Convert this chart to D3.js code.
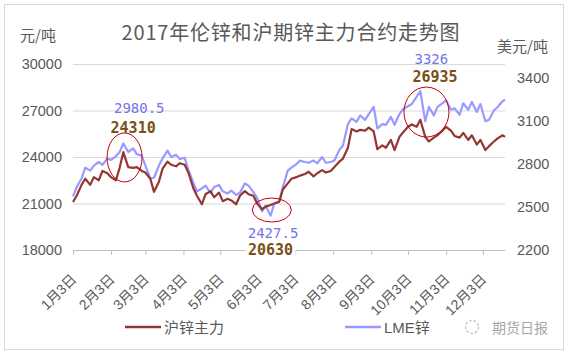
<!DOCTYPE html>
<html><head><meta charset="utf-8">
<script src="https://cdn.jsdelivr.net/npm/d3@7"></script>
<style>
body{margin:0;background:#fff}
text{font-family:"Liberation Sans","Noto Sans CJK SC",sans-serif}
</style></head>
<body><svg id="c" width="569" height="357"></svg>
<script>
const dates = ["2017-01-03","2017-01-06","2017-01-10","2017-01-13","2017-01-17","2017-01-20","2017-01-24","2017-01-27","2017-01-31",
"2017-02-03","2017-02-07","2017-02-10","2017-02-13","2017-02-17","2017-02-21","2017-02-24","2017-02-28",
"2017-03-03","2017-03-07","2017-03-10","2017-03-14","2017-03-17","2017-03-21","2017-03-24","2017-03-28","2017-03-31",
"2017-04-04","2017-04-07","2017-04-11","2017-04-14","2017-04-18","2017-04-21","2017-04-25","2017-04-28",
"2017-05-02","2017-05-05","2017-05-09","2017-05-12","2017-05-16","2017-05-19","2017-05-23","2017-05-26","2017-05-30",
"2017-06-02","2017-06-06","2017-06-09","2017-06-13","2017-06-16","2017-06-20","2017-06-23","2017-06-27","2017-06-30",
"2017-07-04","2017-07-07","2017-07-11","2017-07-14","2017-07-18","2017-07-21","2017-07-25","2017-07-28",
"2017-08-01","2017-08-04","2017-08-08","2017-08-11","2017-08-15","2017-08-18","2017-08-22","2017-08-25","2017-08-29",
"2017-09-01","2017-09-05","2017-09-08","2017-09-12","2017-09-15","2017-09-19","2017-09-22","2017-09-26","2017-09-29",
"2017-10-03","2017-10-06","2017-10-10","2017-10-13","2017-10-17","2017-10-20","2017-10-24","2017-10-27","2017-10-31",
"2017-11-03","2017-11-07","2017-11-10","2017-11-14","2017-11-17","2017-11-21","2017-11-24","2017-11-28",
"2017-12-01","2017-12-05","2017-12-08","2017-12-12","2017-12-15","2017-12-19","2017-12-21"];

// 沪锌主力 (元/吨, left axis)
const shfe = [21100,21500,22200,22600,22200,22700,22500,23100,22950,
22700,22500,23300,24310,23350,23300,23350,23100,
23000,22600,21750,22400,23250,23700,23500,23400,23600,
23500,23000,22000,21500,20950,21600,21800,21400,
21700,21150,21300,21200,20950,21500,21800,21600,21500,
21000,20630,20800,20900,21000,21100,21900,22300,22600,
22700,22800,22900,23050,22750,22950,23150,23000,
23100,23350,23700,23900,24600,25800,25650,25750,25700,
25900,25650,24500,24750,24600,25100,24450,25300,25600,
25950,26100,25950,26400,25300,25000,25250,25400,25700,
25950,25700,25350,25250,25550,25100,25400,24800,
25100,24450,24700,25000,25200,25400,25300];

// LME锌 (美元/吨, right axis)
const lme = [2575,2640,2700,2775,2755,2790,2815,2795,2840,
2830,2855,2885,2945,2885,2910,2870,2860,
2790,2700,2705,2790,2840,2895,2850,2865,2835,
2845,2760,2670,2610,2630,2650,2600,2640,
2655,2610,2595,2615,2585,2600,2665,2650,2605,
2565,2470,2510,2440,2525,2540,2640,2755,2775,
2800,2825,2815,2810,2825,2805,2850,2810,
2815,2825,2900,2930,3080,3120,3095,3140,3110,
3150,3200,3050,3080,3075,3130,3075,3150,3185,
3205,3220,3270,3310,3100,3200,3140,3200,3225,
3245,3180,3190,3145,3225,3180,3235,3165,
3220,3100,3110,3175,3200,3240,3250];

const leftTicks = [18000,21000,24000,27000,30000];
const rightTicks = [2200,2500,2800,3100,3400];
const monthTicks = ["2017-01-03","2017-02-03","2017-03-03","2017-04-03","2017-05-03","2017-06-03",
"2017-07-03","2017-08-03","2017-09-03","2017-10-03","2017-11-03","2017-12-03"];

const title = "2017年伦锌和沪期锌主力合约走势图";
const seriesNames = ["沪锌主力","LME锌"];

// annotation labels (anchored in data units: date + left-axis value)
const notes = [
  {text:"2980.5", date:"2017-02-26", v:27150, kind:"lme"},
  {text:"24310",  date:"2017-02-21", v:25870, kind:"shfe"},
  {text:"2427.5", date:"2017-06-15", v:19100, kind:"lme"},
  {text:"20630",  date:"2017-06-13", v:17990, kind:"shfe"},
  {text:"3326",   date:"2017-10-22", v:30320, kind:"lme"},
  {text:"26935",  date:"2017-10-25", v:29160, kind:"shfe"}
];
const rings = [
  {date:"2017-02-14", v:23970, rx:17.5, ry:24.5},
  {date:"2017-06-14", v:20580, rx:19.5, ry:12},
  {date:"2017-10-18", v:26900, rx:22.5, ry:25}
];

const parse = d3.timeParse("%Y-%m-%d");
const svg = d3.select("#c");
const L = 73, R = 505, T = 64, B = 250;

const x = d3.scaleTime().domain([parse(dates[0]), parse(dates[dates.length-1])]).range([L, R]);
const yL = d3.scaleLinear().domain([18000,30000]).range([B, T]);
const yR = d3.scaleLinear().domain([2200,3500]).range([B, T]);

const RED = "#943634", BLUE = "#9999ff", GREY = "#595959";

// frame
svg.append("rect").attr("x",4.5).attr("y",4.5).attr("width",559).attr("height",345)
  .attr("fill","#fff").attr("stroke","#d9d9d9");

// title
svg.append("text").attr("x",291).attr("y",31).attr("text-anchor","middle")
  .attr("dominant-baseline","central").attr("font-size",20).attr("letter-spacing",0.8)
  .attr("fill",GREY).style("font-family","'Noto Sans CJK SC',sans-serif").text(title);

// units
svg.append("text").attr("x",20).attr("y",34).attr("dominant-baseline","central")
  .attr("font-size",15).attr("fill",GREY).style("font-family","'Noto Sans CJK SC',sans-serif").text("元/吨");
svg.append("text").attr("x",497).attr("y",45).attr("dominant-baseline","central")
  .attr("font-size",15).attr("fill",GREY).style("font-family","'Noto Sans CJK SC',sans-serif").text("美元/吨");

// gridlines
const grid = svg.append("g").attr("transform",`translate(${L},0)`)
  .call(d3.axisLeft(yL).tickValues(leftTicks.filter(d=>d!==18000)).tickSize(-(R-L)).tickFormat(""));
grid.select(".domain").remove();
grid.selectAll("line").attr("stroke","#d9d9d9");

// left axis labels
const gl = svg.append("g").attr("transform",`translate(${L},0)`)
  .call(d3.axisLeft(yL).tickValues(leftTicks).tickSize(0).tickPadding(11).tickFormat(d3.format("d")));
gl.select(".domain").remove();
gl.selectAll("text").attr("font-size",14.5).attr("fill",GREY).style("font-family","'Liberation Sans',sans-serif");

// right axis labels
const gr = svg.append("g").attr("transform",`translate(${R},0)`)
  .call(d3.axisRight(yR).tickValues(rightTicks).tickSize(0).tickPadding(12).tickFormat(d3.format("d")));
gr.select(".domain").remove();
gr.selectAll("text").attr("font-size",14.5).attr("fill",GREY).style("font-family","'Liberation Sans',sans-serif");

// x axis
const gx = svg.append("g").attr("transform",`translate(0,${B})`)
  .call(d3.axisBottom(x).tickValues(monthTicks.map(parse)).tickSize(5).tickSizeOuter(0)
    .tickFormat(d => `${d.getMonth()+1}月${d.getDate()}日`));
gx.select(".domain").attr("stroke","#bfbfbf");
gx.selectAll("line").attr("stroke","#bfbfbf");
gx.selectAll("text").attr("x",0).attr("y",0).attr("dy",0)
  .attr("text-anchor","end").attr("transform","translate(4,30) rotate(-45)")
  .attr("font-size",14).attr("fill",GREY);

// lines
const pts = dates.map((d,i)=>({d:parse(d), s:shfe[i], l:lme[i]}));
svg.append("path").datum(pts).attr("fill","none").attr("stroke",BLUE).attr("stroke-width",2.2)
  .attr("stroke-linejoin","round").attr("d", d3.line().x(p=>x(p.d)).y(p=>yR(p.l)));
svg.append("path").datum(pts).attr("fill","none").attr("stroke",RED).attr("stroke-width",2.2)
  .attr("stroke-linejoin","round").attr("d", d3.line().x(p=>x(p.d)).y(p=>yL(p.s)));

// rings
svg.selectAll(".ring").data(rings).enter().append("ellipse")
  .attr("cx",r=>x(parse(r.date))).attr("cy",r=>yL(r.v)).attr("rx",r=>r.rx).attr("ry",r=>r.ry)
  .attr("fill","none").attr("stroke","#c0000f").attr("stroke-width",1);

// notes
notes.forEach(n=>{
  const cx = x(parse(n.date)), cy = yL(n.v);
  const shf = n.kind==="shfe";
  if (n.text==="20630") {
    svg.append("rect").attr("x",cx-25).attr("y",cy-7).attr("width",50).attr("height",14).attr("fill","#fff");
  }
  svg.append("text").attr("x",cx).attr("y",cy).attr("text-anchor","middle").attr("dominant-baseline","central")
    .attr("font-size", shf ? 15 : 14).attr("font-weight", shf ? "bold" : "normal")
    .attr("fill", shf ? "#7a5016" : "#7474e4")
    .style("font-family","'DejaVu Sans Mono','Liberation Mono',monospace")
    .text(n.text);
});

// legend
const lg = [{name:seriesNames[0], c:RED, x0:125}, {name:seriesNames[1], c:BLUE, x0:345}];
lg.forEach(g=>{
  svg.append("line").attr("x1",g.x0).attr("x2",g.x0+36).attr("y1",327).attr("y2",327)
    .attr("stroke",g.c).attr("stroke-width",2.5);
  svg.append("text").attr("x",g.x0+39).attr("y",327).attr("dominant-baseline","central")
    .attr("font-size",15).attr("fill",GREY).text(g.name);
});

// watermark
svg.append("circle").attr("cx",472).attr("cy",327).attr("r",6.5).attr("fill","none")
  .attr("stroke","#bbb").attr("stroke-width",1.2).attr("stroke-dasharray","2.5 2");
svg.append("text").attr("x",492).attr("y",327).attr("dominant-baseline","central")
  .attr("font-size",14).attr("fill","#a6a6a6").style("font-family","'Noto Sans CJK SC',sans-serif").text("期货日报");
</script></body></html>
